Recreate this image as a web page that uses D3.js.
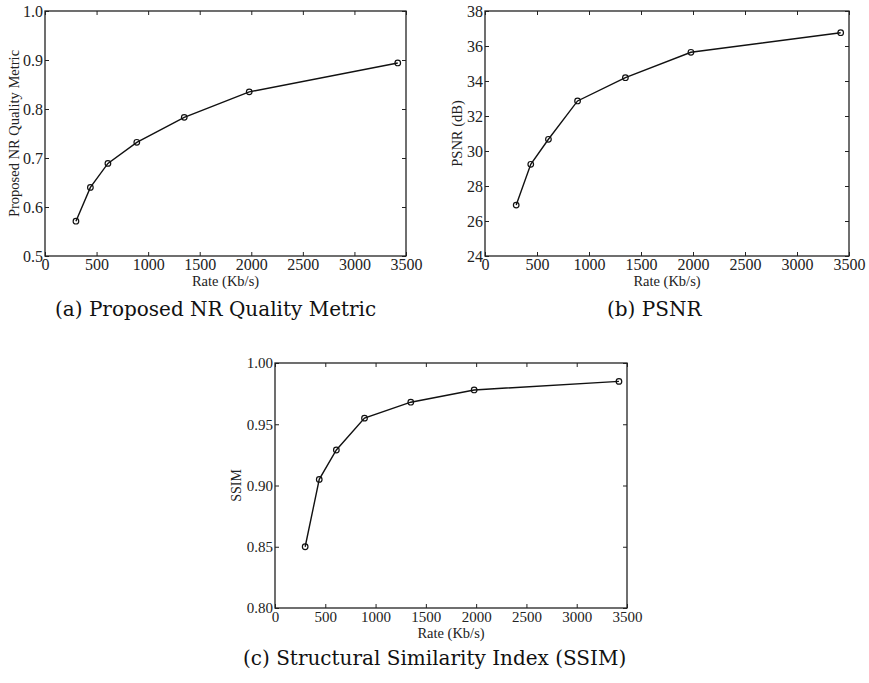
<!DOCTYPE html>
<html>
<head>
<meta charset="utf-8">
<script src="https://cdn.jsdelivr.net/npm/d3@7"></script>
<style>
  body { margin: 0; background: #fff; }
  .tick line { stroke: #222; stroke-width: 1; }
</style>
</head>
<body>
<div id="chart"></div>
<script>
// Data
var rate = [300, 440, 610, 890, 1350, 1980, 3420];
var nrMetric = [0.571, 0.640, 0.689, 0.732, 0.783, 0.835, 0.894];
var psnr = [26.91, 29.24, 30.67, 32.86, 34.19, 35.64, 36.76];
var ssim = [0.850, 0.905, 0.929, 0.955, 0.968, 0.978, 0.985];

var rateTicks = [0, 500, 1000, 1500, 2000, 2500, 3000, 3500];
var nrTicks = [0.5, 0.6, 0.7, 0.8, 0.9, 1.0];
var psnrTicks = [24, 26, 28, 30, 32, 34, 36, 38];
var ssimTicks = [0.80, 0.85, 0.90, 0.95, 1.00];

var svgWidth = 869;
var svgHeight = 683;
var plotFont = "'Liberation Serif', 'Times New Roman', serif";
var capFont = "'DejaVu Serif', 'Liberation Serif', serif";

var svg = d3.select("#chart")
  .append("svg")
  .attr("width", svgWidth)
  .attr("height", svgHeight);

// draw one MATLAB-style panel
function drawPanel(p) {
  var width = p.right - p.left;
  var height = p.bottom - p.top;

  var g = svg.append("g")
    .attr("transform", `translate(${p.left}, ${p.top})`);

  var x = d3.scaleLinear().domain([0, 3500]).range([0, width]);
  var y = d3.scaleLinear().domain(p.yDomain).range([height, 0]);

  // bottom + left axes with labels, ticks pointing in
  var bottom = g.append("g")
    .attr("transform", `translate(0, ${height})`)
    .call(d3.axisBottom(x).tickValues(rateTicks).tickSize(-4).tickPadding(3).tickFormat(d3.format("d")));

  var left = g.append("g")
    .call(d3.axisLeft(y).tickValues(p.yTicks).tickSize(-4).tickPadding(2).tickFormat(p.yFormat));

  [bottom, left].forEach(function(ax) {
    ax.attr("font-family", null).attr("font-size", null);
    ax.selectAll("text")
      .style("font-family", plotFont)
      .style("font-size", p.tickFont + "px")
      .attr("fill", "#222");
  });

  // mirrored ticks on top and right
  g.append("g")
    .call(d3.axisTop(x).tickValues(rateTicks).tickSize(-4).tickFormat(""));
  g.append("g")
    .attr("transform", `translate(${width}, 0)`)
    .call(d3.axisRight(y).tickValues(p.yTicks).tickSize(-4).tickFormat(""));

  g.selectAll(".domain").remove();

  g.append("rect")
    .attr("width", width)
    .attr("height", height)
    .attr("fill", "none")
    .attr("stroke", "#222")
    .attr("stroke-width", 1.3);

  var line = d3.line()
    .x(function(d, i) { return x(rate[i]); })
    .y(function(d) { return y(d); });

  g.append("path")
    .datum(p.values)
    .attr("d", line)
    .attr("fill", "none")
    .attr("stroke", "#111")
    .attr("stroke-width", 1.4);

  g.selectAll("circle")
    .data(p.values)
    .enter()
    .append("circle")
    .attr("cx", function(d, i) { return x(rate[i]); })
    .attr("cy", function(d) { return y(d); })
    .attr("r", 2.8)
    .attr("fill", "none")
    .attr("stroke", "#111")
    .attr("stroke-width", 1.2);

  // axis labels
  g.append("text")
    .attr("x", width / 2)
    .attr("y", height + 30)
    .attr("text-anchor", "middle")
    .attr("fill", "#222")
    .style("font-family", plotFont)
    .style("font-size", "14.5px")
    .text("Rate (Kb/s)");

  g.append("text")
    .attr("transform", `translate(${p.yLabelX - p.left}, ${height / 2}) rotate(-90)`)
    .attr("text-anchor", "middle")
    .attr("dy", "0.35em")
    .attr("fill", "#222")
    .style("font-family", plotFont)
    .style("font-size", p.yLabelFont + "px")
    .text(p.yLabel);

  // sub-figure caption
  svg.append("text")
    .attr("x", p.capX)
    .attr("y", p.capY)
    .attr("fill", "#111")
    .style("font-family", capFont)
    .style("font-size", "20px")
    .text(p.caption);
}

drawPanel({
  left: 45, right: 406, top: 11, bottom: 256,
  values: nrMetric, yDomain: [0.5, 1.0], yTicks: nrTicks,
  yFormat: d3.format(".1f"), tickFont: 16,
  yLabel: "Proposed NR Quality Metric", yLabelX: 14, yLabelFont: 14.5,
  caption: "(a) Proposed NR Quality Metric", capX: 55, capY: 316
});

drawPanel({
  left: 485, right: 849, top: 11, bottom: 256,
  values: psnr, yDomain: [24, 38], yTicks: psnrTicks,
  yFormat: d3.format("d"), tickFont: 16,
  yLabel: "PSNR (dB)", yLabelX: 457, yLabelFont: 14.5,
  caption: "(b) PSNR", capX: 607, capY: 316
});

drawPanel({
  left: 275, right: 627, top: 363, bottom: 608,
  values: ssim, yDomain: [0.80, 1.00], yTicks: ssimTicks,
  yFormat: d3.format(".2f"), tickFont: 15,
  yLabel: "SSIM", yLabelX: 236, yLabelFont: 14,
  caption: "(c) Structural Similarity Index (SSIM)", capX: 243, capY: 665
});
</script>
</body>
</html>
